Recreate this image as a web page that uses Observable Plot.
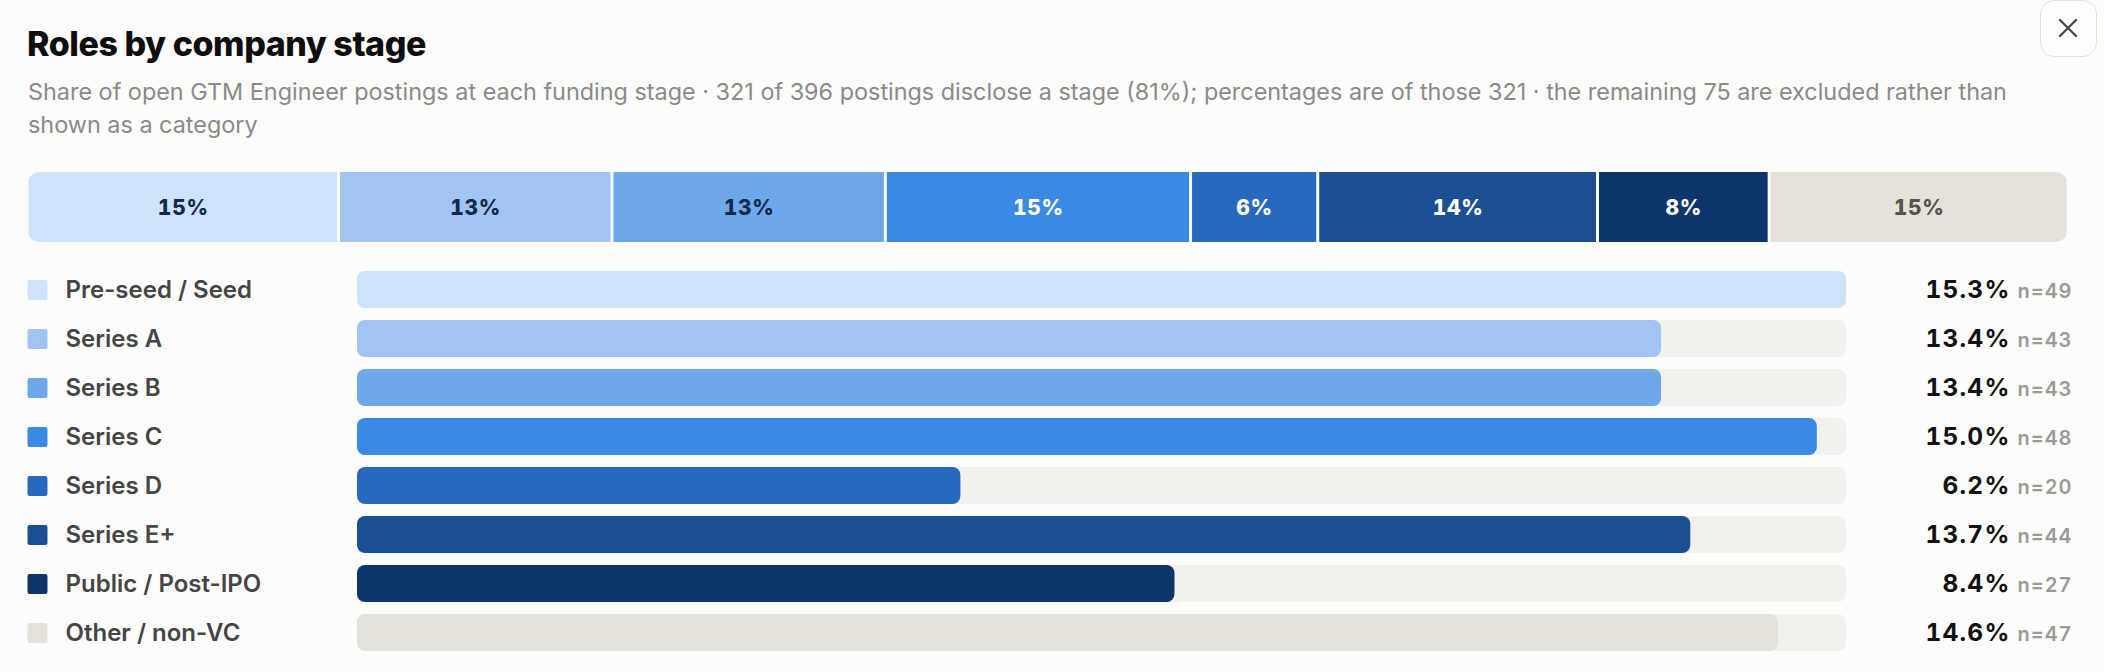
<!DOCTYPE html>
<html>
<head>
<meta charset="utf-8">
<script src="https://cdn.jsdelivr.net/npm/d3@7"></script>
<script src="https://cdn.jsdelivr.net/npm/@observablehq/plot@0.6"></script>
<style>
  html, body { margin: 0; padding: 0; background: #fcfcfb; }
  body { width: 2104px; height: 672px; overflow: hidden; position: relative; font-family: Inter, "Noto Sans", sans-serif; }
  #title { position: absolute; left: 27px; top: 24px; margin: 0; font-size: 34px; line-height: 40px; font-weight: 800; letter-spacing: -0.45px; color: #0e0e0e; }
  #subtitle { position: absolute; left: 28px; top: 75px; width: 2040px; margin: 0; font-size: 23.4px; line-height: 33px; font-weight: 400; color: #8a8a88; }
  #close { position: absolute; left: 2040px; top: 0px; width: 57px; height: 57px; box-sizing: border-box; border: 1.5px solid #e3e1dc; border-radius: 14px; background: #fdfdfc; }
  #close svg { position: absolute; left: 17px; top: 17px; }
  #stack { position: absolute; left: 0; top: 172px; }
  #rows { position: absolute; left: 0; top: 241px; }
</style>
</head>
<body>
<h1 id="title">Roles by company stage</h1>
<p id="subtitle">Share of open GTM Engineer postings at each funding stage · 321 of 396 postings disclose a stage (81%); percentages are of those 321 · the remaining 75 are excluded rather than<br>shown as a category</p>
<div id="close"><svg width="20" height="20" viewBox="0 0 20 20"><path d="M2 2L18 18M18 2L2 18" stroke="#444" stroke-width="2.2" stroke-linecap="round"/></svg></div>
<div id="stack"></div>
<div id="rows"></div>
<script>
const stages = ["Pre-seed / Seed", "Series A", "Series B", "Series C", "Series D", "Series E+", "Public / Post-IPO", "Other / non-VC"];
const counts = [49, 43, 43, 48, 20, 44, 27, 47];
const shares = [15.3, 13.4, 13.4, 15.0, 6.2, 13.7, 8.4, 14.6];
const sharesRounded = [15, 13, 13, 15, 6, 14, 8, 15];

const palette = ["#cde3fb", "#a1c4f3", "#6ea8eb", "#3a89e4", "#2869c0", "#1a4f94", "#0d356b", "#e4e1db"];
const inkDark = "#13294b", inkLight = "#ffffff", inkMuted = "#57534e";
const inkFor = i => (i < 3 ? inkDark : i < 7 ? inkLight : inkMuted);

const total = d3.sum(counts);
const starts = [0, ...d3.cumsum(counts)];
const rows = stages.map((stage, i) => ({
  stage, i,
  n: counts[i],
  share: shares[i],
  rounded: sharesRounded[i],
  x1: starts[i],
  x2: starts[i + 1],
  mid: (starts[i] + starts[i + 1]) / 2
}));
const maxShare = d3.max(shares);
const font = {fontFamily: "Inter, 'Noto Sans', sans-serif", background: "transparent", overflow: "visible"};

// Stacked share bar
const stack = Plot.plot({
  width: 2104, height: 70,
  marginLeft: 27, marginRight: 36, marginTop: 0, marginBottom: 0,
  style: font,
  x: {domain: [0, total], axis: null},
  y: {axis: null},
  color: {domain: stages, range: palette},
  marks: [
    Plot.barX(rows, {x1: "x1", x2: "x2", fill: "stage", insetLeft: 1.5, insetRight: 1.5}),
    ...[inkDark, inkLight, inkMuted].map(ink =>
      Plot.text(rows.filter(d => inkFor(d.i) === ink), {
        x: "mid", text: d => d.rounded + "%", fill: ink,
        fontSize: 21, fontWeight: 800, fontVariant: "tabular-nums", frameAnchor: "middle", dy: 1
      })
    )
  ]
});
{
  const svg = d3.select(stack);
  const id = "stackclip";
  svg.insert("defs", ":first-child").append("clipPath").attr("id", id)
    .append("rect").attr("x", 27).attr("y", 0).attr("width", 2104 - 27 - 36).attr("height", 70).attr("rx", 13).attr("ry", 13);
  svg.selectAll("g[aria-label='bar']").attr("clip-path", `url(#${id})`);
  svg.selectAll("g[aria-label='text']").attr("letter-spacing", "0.7px");
}
document.getElementById("stack").append(stack);

// Per-stage rows
const chart = Plot.plot({
  width: 2104, height: 423,
  marginLeft: 357, marginRight: 258, marginTop: 16, marginBottom: 0,
  style: font,
  x: {domain: [0, maxShare], axis: null},
  y: {domain: stages, axis: null, padding: 0.25},
  color: {domain: stages, range: palette},
  marks: [
    Plot.barX(rows, {y: "stage", x1: 0, x2: () => maxShare, fill: "#f2f1ee", rx: 8}),
    Plot.barX(rows, {y: "stage", x1: 0, x2: "share", fill: "stage", rx: 8}),
    Plot.dot(rows, {y: "stage", frameAnchor: "left", dx: -320, symbol: "square", r: 9, fill: "stage", stroke: "stage", strokeWidth: 4, strokeLinejoin: "round"}),
    Plot.text(rows, {y: "stage", text: "stage", frameAnchor: "left", dx: -292, dy: 0, textAnchor: "start", fontSize: 24, fontWeight: 600, fill: "#454545"}),
    Plot.text(rows, {y: "stage", text: d => d.share.toFixed(1) + "%", frameAnchor: "right", dx: 164, dy: 0, textAnchor: "end", fontSize: 24.5, fontWeight: 700, fontVariant: "tabular-nums", fill: "#111"}),
    Plot.text(rows, {y: "stage", text: d => "n=" + d.n, frameAnchor: "right", dx: 171, dy: 1.2, textAnchor: "start", fontSize: 20, fontWeight: 600, fontVariant: "tabular-nums", fill: "#9a9a98"})
  ]
});
{
  const groups = chart.querySelectorAll("g[aria-label='text']");
  if (groups[1]) groups[1].setAttribute("letter-spacing", "1.2px");
  if (groups[2]) groups[2].setAttribute("letter-spacing", "1px");
}
document.getElementById("rows").append(chart);
</script>
</body>
</html>
